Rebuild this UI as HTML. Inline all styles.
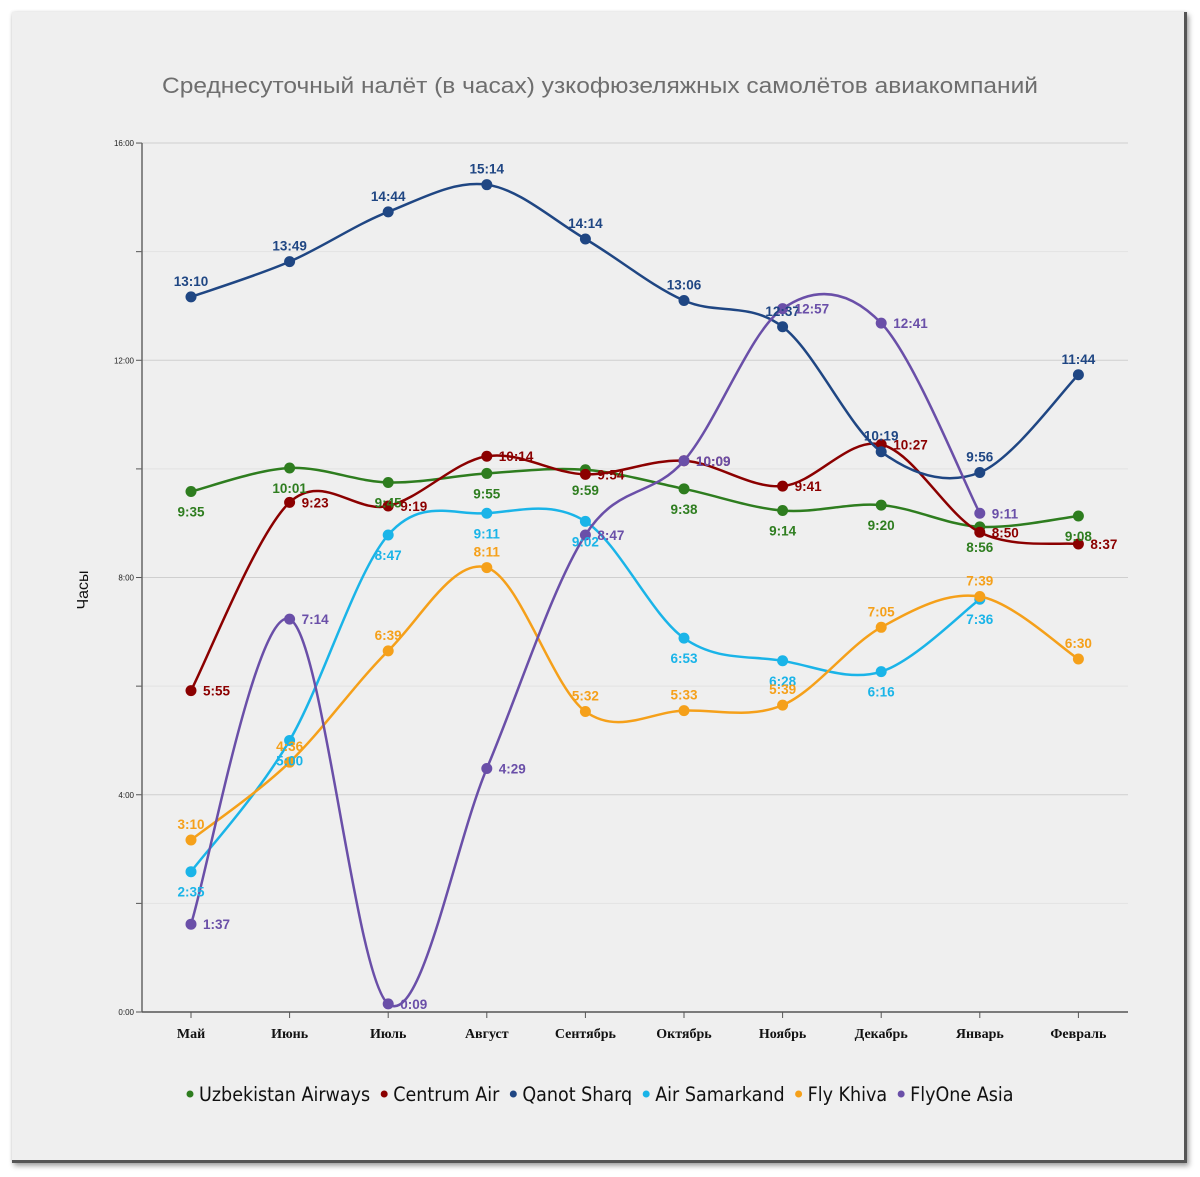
<!DOCTYPE html>
<html><head><meta charset="utf-8">
<style>
html,body{margin:0;padding:0;background:#fff;width:1200px;height:1177px;overflow:hidden}
#card{position:absolute;left:12px;top:12px;width:1172px;height:1148px;background:#efefef;border-right:3px solid #555;border-bottom:3px solid #555;box-shadow:2px 3px 5px rgba(0,0,0,0.35),0 0 3px rgba(0,0,0,0.12)}
svg{position:absolute;left:0;top:0}
</style></head>
<body>
<div id="card"></div>
<svg id="chart" width="1200" height="1177" font-family="'Liberation Sans', sans-serif">
<text x="600" y="93" text-anchor="middle" font-size="22" fill="#6e6e6e" textLength="876" lengthAdjust="spacingAndGlyphs">Среднесуточный налёт (в часах) узкофюзеляжных самолётов авиакомпаний</text>
<text transform="translate(88,590) rotate(-90)" text-anchor="middle" font-size="16" fill="#111">Часы</text>
<g id="grid"></g><g id="axes"></g><g id="series"></g><g id="labels"></g><g id="legend"></g>
</svg>
<script>
const categories=["Май","Июнь","Июль","Август","Сентябрь","Октябрь","Ноябрь","Декабрь","Январь","Февраль"];
const yTicks=[0,2,4,6,8,10,12,14,16];
const yTickLabels=["0:00","","4:00","","8:00","","12:00","","16:00"];
const seriesNames=["Uzbekistan Airways","Centrum Air","Qanot Sharq","Air Samarkand","Fly Khiva","FlyOne Asia"];
const seriesColors=["#2e7d1f","#8b0000","#1f4683","#1ab4e8","#f5a01a","#6a4fa8"];
const uzbekistan=["9:35","10:01","9:45","9:55","9:59","9:38","9:14","9:20","8:56","9:08"];
const centrum=["5:55","9:23","9:19","10:14","9:54","10:09","9:41","10:27","8:50","8:37"];
const qanot=["13:10","13:49","14:44","15:14","14:14","13:06","12:37","10:19","9:56","11:44"];
const samarkand=["2:35","5:00","8:47","9:11","9:02","6:53","6:28","6:16","7:36",null];
const khiva=["3:10","4:36","6:39","8:11","5:32","5:33","5:39","7:05","7:39","6:30"];
const flyone=["1:37","7:14","0:09","4:29","8:47","10:09","12:57","12:41","9:11",null];
const labelPos=["b","r","t","b","t","r"];
const NS="http://www.w3.org/2000/svg";
const X0=191,DX=98.6,Y0=1012,YH=54.31,LEFT=142,RIGHT=1128;
function xs(i){return X0+i*DX;}
function ys(h){return Y0-h*YH;}
function toH(s){const p=s.split(":");return +p[0]+ +p[1]/60;}
function mk(tag,attrs,parent){const e=document.createElementNS(NS,tag);for(const k in attrs)e.setAttribute(k,attrs[k]);parent.appendChild(e);return e;}
const grid=document.getElementById('grid'),axes=document.getElementById('axes');
yTicks.forEach((t,i)=>{
  const y=ys(t);
  if(t>0){const g=mk('line',{x1:LEFT,x2:RIGHT,y1:y,y2:y,stroke:t%4==0?'#cfcfcf':'#e2e2e2','stroke-width':1},grid);
  
  }
  mk('line',{x1:LEFT-6,x2:LEFT,y1:y,y2:y,stroke:'#555','stroke-width':1},axes);
  if(yTickLabels[i]){const tx=mk('text',{x:LEFT-8,y:y+3,'text-anchor':'end','font-size':8,fill:'#222'},axes);tx.textContent=yTickLabels[i];
  
  }
});
mk('line',{x1:LEFT,x2:LEFT,y1:ys(16),y2:Y0,stroke:'#666','stroke-width':1.5},axes);
mk('line',{x1:LEFT,x2:RIGHT,y1:Y0,y2:Y0,stroke:'#555','stroke-width':1.5},axes);
categories.forEach((c,i)=>{
  mk('line',{x1:xs(i),x2:xs(i),y1:Y0,y2:Y0+6,stroke:'#555'},axes);
  const t=mk('text',{x:xs(i),y:Y0+26,'text-anchor':'middle','font-size':14,'font-weight':'bold','font-family':"'Liberation Serif', serif",fill:'#111'},axes);
  t.textContent=c;
  
  
});
const all=[uzbekistan,centrum,qanot,samarkand,khiva,flyone];
const sg=document.getElementById('series'),lg=document.getElementById('labels');
all.forEach((data,si)=>{
  const col=seriesColors[si];
  const pts=[];data.forEach((v,i)=>{if(v!==null)pts.push([xs(i),ys(toH(v)),v]);});
  let d="M"+pts[0][0]+","+pts[0][1];
  for(let i=0;i<pts.length-1;i++){
    const p0=pts[Math.max(0,i-1)],p1=pts[i],p2=pts[i+1],p3=pts[Math.min(pts.length-1,i+2)];
    const c1x=p1[0]+(p2[0]-p0[0])/6,c1y=p1[1]+(p2[1]-p0[1])/6;
    const c2x=p2[0]-(p3[0]-p1[0])/6,c2y=p2[1]-(p3[1]-p1[1])/6;
    d+=" C"+c1x+","+c1y+" "+c2x+","+c2y+" "+p2[0]+","+p2[1];
  }
  const path=mk('path',{d:d,fill:'none',stroke:col,'stroke-width':2.5},sg);
  
  
  pts.forEach(p=>{
    const c=mk('circle',{cx:p[0],cy:p[1],r:5.5,fill:col},sg);
    
    
    const pos=labelPos[si];
    let a={'font-size':13.5,'font-weight':'bold',fill:col};
    if(pos=='t'){a.x=p[0];a.y=p[1]-11;a['text-anchor']='middle';}
    else if(pos=='b'){a.x=p[0];a.y=p[1]+25;a['text-anchor']='middle';}
    else{a.x=p[0]+12;a.y=p[1]+5;a['text-anchor']='start';}
    const t=mk('text',a,lg);t.textContent=p[2];
    
    
  });
});
const leg=document.getElementById('legend');
let lx=186;
seriesNames.forEach((n,i)=>{
  const gi=mk('g',{},leg);
  
  
  mk('circle',{cx:lx+4,cy:1094,r:3.5,fill:seriesColors[i]},gi);
  const t=mk('text',{x:lx+13,y:1101,'font-size':19.5,fill:'#111','font-family':"'DejaVu Sans Condensed','DejaVu Sans', sans-serif"},gi);
  t.textContent=n;
  lx+=t.getComputedTextLength()+23;
});
</script>
</body></html>
